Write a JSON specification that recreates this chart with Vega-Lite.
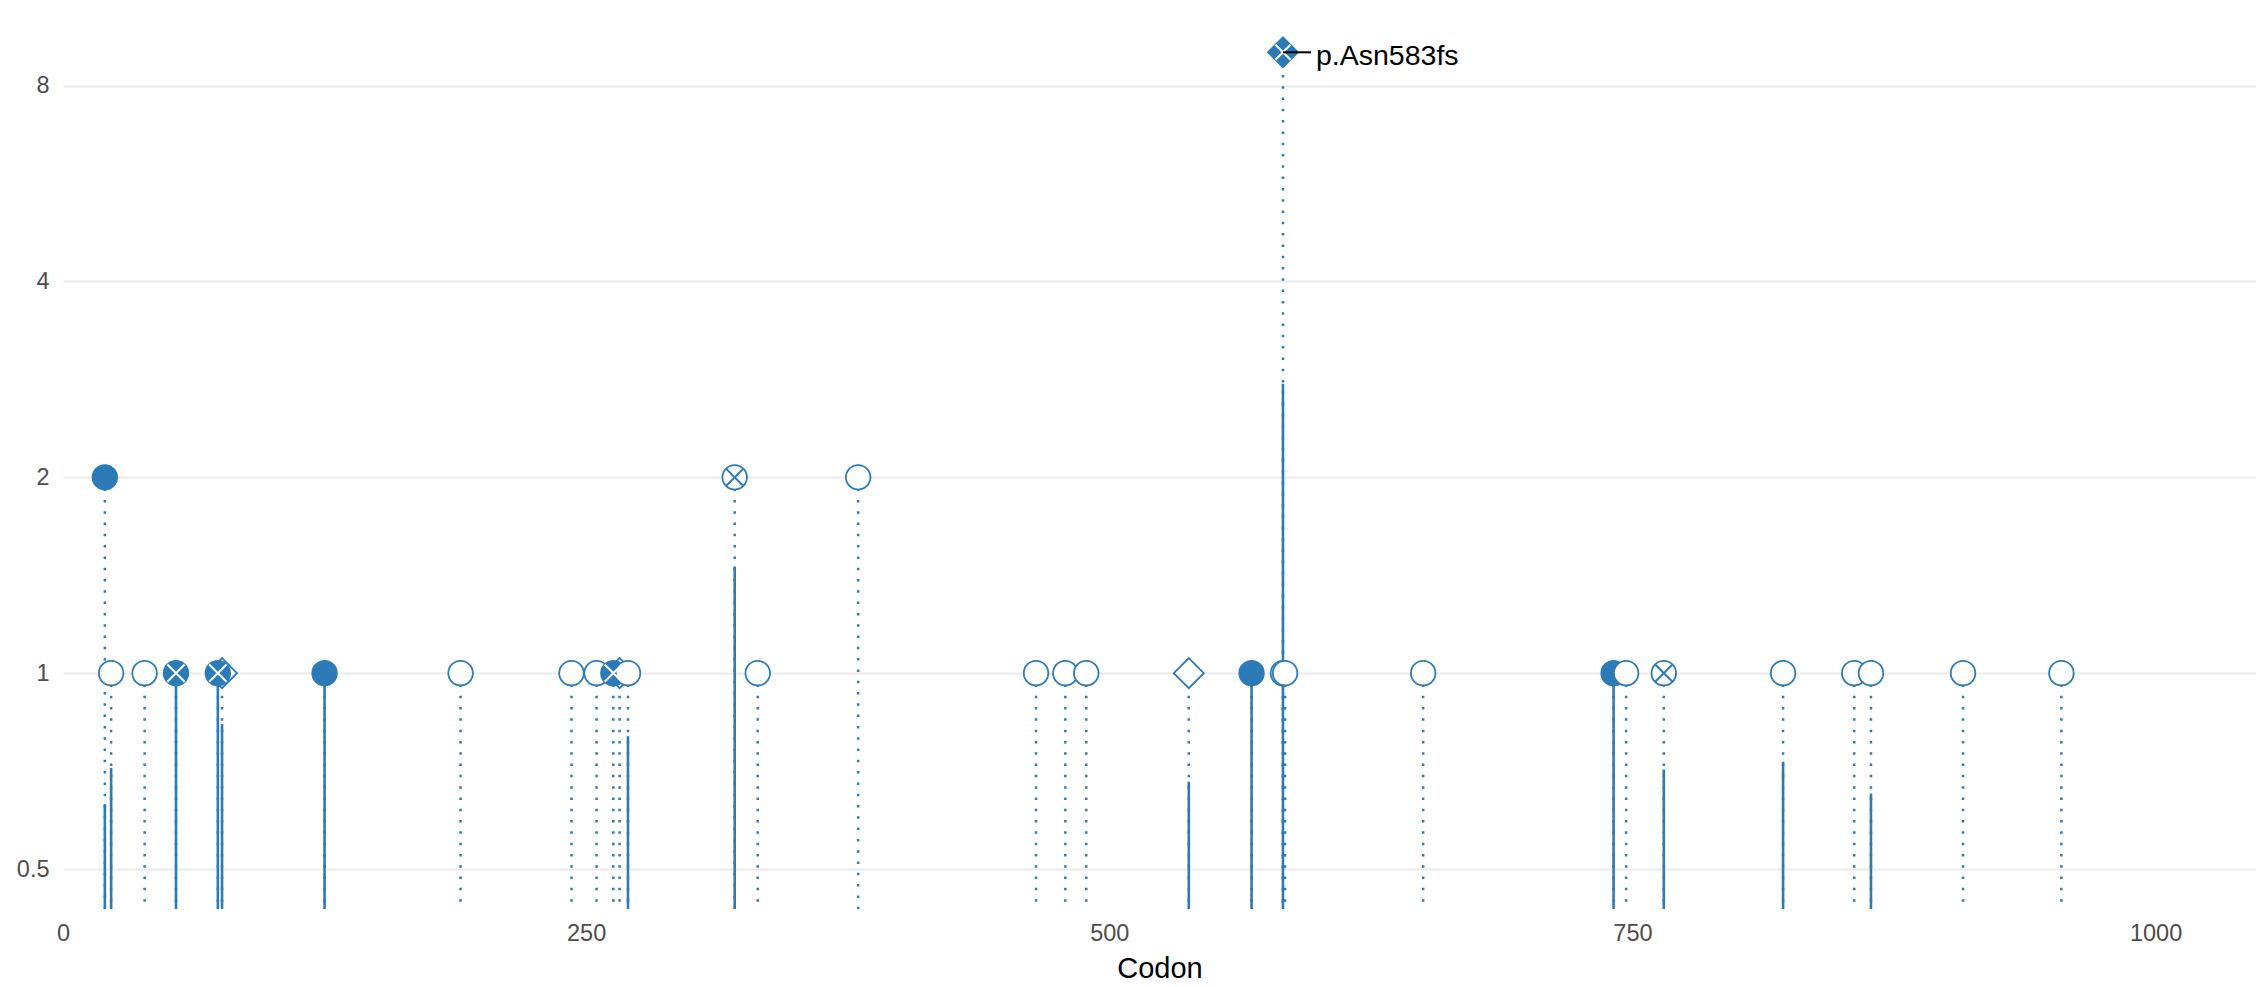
{
  "$schema": "https://vega.github.io/schema/vega-lite/v6.json",
  "autosize": {"type": "none"},
  "padding": {"left": 63, "top": 0, "right": 0, "bottom": 78},
  "width": 2193,
  "height": 909,
  "background": "white",
  "config": {
    "view": {"stroke": null},
    "font": "Liberation Sans",
    "axis": {"domain": false, "ticks": false, "labelFont": "Liberation Sans", "titleFont": "Liberation Sans"}
  },
  "resolve": {"scale": {"shape": "independent", "stroke": "independent", "fill": "independent"}},
  "data": {
    "values": [
      {"codon": 76, "count": 1, "effect": "Inframe", "hotspot": "no", "solid": 0.835},
      {"codon": 266, "count": 1, "effect": "Inframe", "hotspot": "no", "solid": null},
      {"codon": 538, "count": 1, "effect": "Inframe", "hotspot": "no", "solid": 0.681},
      {"codon": 583, "count": 9, "effect": "Frameshift", "hotspot": "yes", "solid": 2.786, "label": "p.Asn583fs"},
      {"codon": 20, "count": 2, "effect": "Nonsense", "hotspot": "no", "solid": 0.629},
      {"codon": 23, "count": 1, "effect": "Missense", "hotspot": "no", "solid": 0.715},
      {"codon": 39, "count": 1, "effect": "Missense", "hotspot": "no", "solid": null},
      {"codon": 54, "count": 1, "effect": "Nonsense", "hotspot": "yes", "solid": 1},
      {"codon": 74, "count": 1, "effect": "Nonsense", "hotspot": "yes", "solid": 1},
      {"codon": 125, "count": 1, "effect": "Nonsense", "hotspot": "no", "solid": 1},
      {"codon": 190, "count": 1, "effect": "Missense", "hotspot": "no", "solid": null},
      {"codon": 243, "count": 1, "effect": "Missense", "hotspot": "no", "solid": null},
      {"codon": 255, "count": 1, "effect": "Missense", "hotspot": "no", "solid": null},
      {"codon": 263, "count": 1, "effect": "Nonsense", "hotspot": "yes", "solid": null},
      {"codon": 270, "count": 1, "effect": "Missense", "hotspot": "no", "solid": 0.80},
      {"codon": 321, "count": 2, "effect": "Missense", "hotspot": "yes", "solid": 1.458},
      {"codon": 332, "count": 1, "effect": "Missense", "hotspot": "no", "solid": null},
      {"codon": 380, "count": 2, "effect": "Missense", "hotspot": "no", "solid": null},
      {"codon": 465, "count": 1, "effect": "Missense", "hotspot": "no", "solid": null},
      {"codon": 479, "count": 1, "effect": "Missense", "hotspot": "no", "solid": null},
      {"codon": 489, "count": 1, "effect": "Missense", "hotspot": "no", "solid": null},
      {"codon": 568, "count": 1, "effect": "Nonsense", "hotspot": "no", "solid": 1},
      {"codon": 583, "count": 1, "effect": "Missense", "hotspot": "no", "solid": null},
      {"codon": 584, "count": 1, "effect": "Missense", "hotspot": "no", "solid": null},
      {"codon": 650, "count": 1, "effect": "Missense", "hotspot": "no", "solid": null},
      {"codon": 741, "count": 1, "effect": "Nonsense", "hotspot": "no", "solid": 1},
      {"codon": 747, "count": 1, "effect": "Missense", "hotspot": "no", "solid": null},
      {"codon": 765, "count": 1, "effect": "Missense", "hotspot": "yes", "solid": 0.711},
      {"codon": 822, "count": 1, "effect": "Missense", "hotspot": "no", "solid": 0.731},
      {"codon": 856, "count": 1, "effect": "Missense", "hotspot": "no", "solid": null},
      {"codon": 864, "count": 1, "effect": "Missense", "hotspot": "no", "solid": 0.653},
      {"codon": 908, "count": 1, "effect": "Missense", "hotspot": "no", "solid": null},
      {"codon": 955, "count": 1, "effect": "Missense", "hotspot": "no", "solid": null}
    ]
  },
  "encoding": {
    "x": {
      "field": "codon", "type": "quantitative",
      "scale": {"domain": [0, 1048], "nice": false, "zero": false},
      "axis": {
        "values": [0, 250, 500, 750, 1000], "format": "d", "grid": false,
        "labelFontSize": 23.5, "labelColor": "#4d4d4d", "labelPadding": 12,
        "labelFlush": false, "labelOverlap": false,
        "title": "Codon", "titleFontSize": 29, "titleColor": "#000000",
        "titleFontWeight": "normal", "titlePadding": 10
      }
    }
  },
  "layer": [
    {
      "mark": {"type": "rule", "color": "#2c7bb6", "strokeWidth": 2.5, "strokeDash": [2.5, 8.8]},
      "encoding": {
        "y": {
          "field": "count", "type": "quantitative",
          "scale": {"type": "log", "base": 2, "domain": [0.434, 10.83], "nice": false},
          "axis": {
            "values": [0.5, 1, 2, 4, 8], "grid": true, "gridColor": "#ebebeb", "gridWidth": 2.2,
            "labelFontSize": 23.5, "labelColor": "#4d4d4d", "labelPadding": 14,
            "labelOverlap": false, "title": null
          }
        },
        "y2": {"datum": 0.434}
      }
    },
    {
      "transform": [{"filter": "isValid(datum.solid)"}],
      "mark": {"type": "rule", "color": "#2c7bb6", "strokeWidth": 2.6},
      "encoding": {
        "y": {"field": "solid", "type": "quantitative"},
        "y2": {"datum": 0.434}
      }
    },
    {
      "mark": {"type": "point", "filled": true, "opacity": 1, "stroke": "#2c7bb6", "strokeWidth": 1.8, "size": 1024},
      "encoding": {
        "y": {"field": "count", "type": "quantitative"},
        "shape": {
          "field": "effect", "type": "nominal", "legend": null,
          "scale": {
            "domain": ["Missense", "Nonsense", "Inframe", "Frameshift"],
            "range": [
              "M0.766,0A0.766,0.766,0,1,1,-0.766,0A0.766,0.766,0,1,1,0.766,0Z",
              "M0.766,0A0.766,0.766,0,1,1,-0.766,0A0.766,0.766,0,1,1,0.766,0Z",
              "M-0.9375,0L0,-0.9375L0.9375,0L0,0.9375Z",
              "M-0.9375,0L0,-0.9375L0.9375,0L0,0.9375Z"
            ]
          }
        },
        "fill": {
          "field": "effect", "type": "nominal", "legend": null,
          "scale": {
            "domain": ["Missense", "Nonsense", "Inframe", "Frameshift"],
            "range": ["#ffffff", "#2c7bb6", "#ffffff", "#2c7bb6"]
          }
        }
      }
    },
    {
      "transform": [{"filter": "datum.hotspot === 'yes'"}],
      "mark": {"type": "point", "filled": false, "opacity": 1, "strokeWidth": 2, "size": 1024},
      "encoding": {
        "y": {"field": "count", "type": "quantitative"},
        "shape": {
          "field": "effect", "type": "nominal", "legend": null,
          "scale": {
            "domain": ["Missense", "Nonsense", "Inframe", "Frameshift"],
            "range": [
              "M-0.541,-0.541L0.541,0.541M-0.541,0.541L0.541,-0.541",
              "M-0.541,-0.541L0.541,0.541M-0.541,0.541L0.541,-0.541",
              "M-0.469,-0.469L0.469,0.469M-0.469,0.469L0.469,-0.469",
              "M-0.469,-0.469L0.469,0.469M-0.469,0.469L0.469,-0.469"
            ]
          }
        },
        "stroke": {
          "field": "effect", "type": "nominal", "legend": null,
          "scale": {
            "domain": ["Missense", "Nonsense", "Inframe", "Frameshift"],
            "range": ["#2c7bb6", "#ffffff", "#2c7bb6", "#ffffff"]
          }
        }
      }
    },
    {
      "transform": [{"filter": "isValid(datum.label)"}],
      "mark": {"type": "rule", "color": "#000000", "strokeWidth": 2, "x2Offset": 28},
      "encoding": {
        "y": {"field": "count", "type": "quantitative"},
        "x2": {"field": "codon"}
      }
    },
    {
      "transform": [{"filter": "isValid(datum.label)"}],
      "mark": {"type": "text", "align": "left", "baseline": "alphabetic", "dx": 33, "dy": 13, "fontSize": 28.5, "font": "Liberation Sans", "color": "#000000"},
      "encoding": {
        "y": {"field": "count", "type": "quantitative"},
        "text": {"field": "label"}
      }
    }
  ]
}
